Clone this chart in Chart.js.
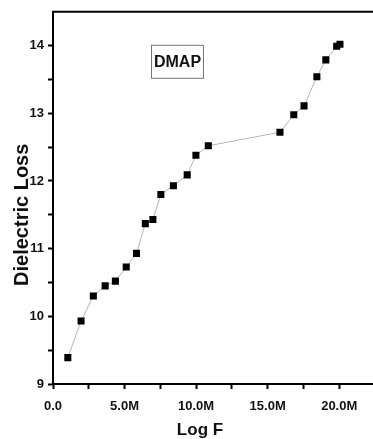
<!DOCTYPE html>
<html>
<head>
<meta charset="utf-8">
<script src="https://cdn.jsdelivr.net/npm/chart.js@4/dist/chart.umd.min.js"></script>
<style>
  html, body { margin: 0; padding: 0; background: #fff; overflow: hidden; }
  #wrap { width: 380px; height: 439px; }
</style>
</head>
<body>
<div id="wrap"><canvas id="grafico"></canvas></div>
<script>
// Dados
const logF = [1.04e6, 1.97e6, 2.83e6, 3.66e6, 4.38e6, 5.14e6, 5.86e6, 6.48e6, 7.01e6, 7.57e6,
  8.45e6, 9.42e6, 10.03e6, 10.90e6, 15.93e6, 16.90e6, 17.62e6, 18.52e6, 19.15e6, 19.91e6, 20.14e6];
const perda = [9.39, 9.93, 10.30, 10.45, 10.52, 10.73, 10.93, 11.37, 11.43, 11.80,
  11.93, 12.09, 12.38, 12.52, 12.72, 12.98, 13.11, 13.54, 13.79, 13.99, 14.02];
const rotuloAmostra = 'DMAP';
const tituloX = 'Log F';
const tituloY = 'Dielectric Loss';

const fonte = "'Liberation Sans', Arial, sans-serif";

// Borda superior, títulos e caixa da legenda
const molduraPlugin = {
  id: 'moldura',
  afterDraw(chart) {
    const { ctx, chartArea } = chart;
    ctx.save();
    ctx.strokeStyle = '#000';
    ctx.lineWidth = 2;
    ctx.beginPath();
    ctx.moveTo(chartArea.left - 1, chartArea.top);
    ctx.lineTo(chartArea.right, chartArea.top);
    ctx.stroke();

    // caixa DMAP
    const bx = chartArea.left + 98, by = chartArea.top + 33, bw = 52, bh = 33;
    ctx.lineWidth = 1;
    ctx.strokeStyle = '#777';
    ctx.strokeRect(bx + 0.5, by + 0.5, bw, bh);
    ctx.fillStyle = '#111';
    ctx.font = "bold 16px " + fonte;
    ctx.textAlign = 'center';
    ctx.textBaseline = 'middle';
    ctx.fillText(rotuloAmostra, bx + bw / 2 + 0.5, by + bh / 2 + 1);

    // títulos dos eixos
    ctx.font = "bold 17px " + fonte;
    ctx.fillText(tituloX, chartArea.left + 147, chartArea.bottom + 46);
    ctx.translate(22, chartArea.top + 203);
    ctx.rotate(-Math.PI / 2);
    ctx.font = "bold 20px " + fonte;
    ctx.fillText(tituloY, 0, 0);
    ctx.restore();
  }
};

const ctx = document.getElementById('grafico').getContext('2d');
new Chart(ctx, {
  type: 'scatter',
  data: {
    datasets: [{
      data: logF.map((x, i) => ({ x: x, y: perda[i] })),
      showLine: true,
      borderColor: '#b5b5b5',
      borderWidth: 1,
      pointStyle: 'rect',
      pointRadius: 5,
      pointBackgroundColor: '#000',
      pointBorderColor: '#000',
      pointBorderWidth: 0
    }]
  },
  options: {
    responsive: true,
    maintainAspectRatio: false,
    animation: false,
    layout: { padding: { top: 11, left: 0, right: 0, bottom: 0 } },
    plugins: {
      legend: { display: false },
      tooltip: { enabled: false }
    },
    scales: {
      x: {
        type: 'linear',
        min: 0,
        max: 22.6e6,
        afterBuildTicks: s => { s.ticks = s.ticks.filter(t => t.value <= 22.5e6); },
        afterFit: s => { s.height = 55; },
        ticks: {
          stepSize: 2.5e6,
          color: '#111',
          padding: 10,
          maxRotation: 0,
          autoSkip: false,
          font: { family: fonte, size: 13, weight: 'bold' },
          callback: v => {
            const k = Math.round(v / 2.5e6);
            if (k % 2 !== 0) return '';
            return k === 0 ? '0.0' : (k * 2.5).toFixed(1) + 'M';
          }
        },
        grid: { drawOnChartArea: false, tickLength: 5, tickWidth: 2, tickColor: '#000' },
        border: { color: '#000', width: 2 },
        title: { display: false }
      },
      y: {
        min: 9,
        max: 14.5,
        afterBuildTicks: s => { s.ticks = s.ticks.filter(t => t.value < 14.5); },
        afterFit: s => { s.width = 53; },
        ticks: {
          stepSize: 0.5,
          color: '#111',
          padding: 4,
          autoSkip: false,
          font: { family: fonte, size: 13, weight: 'bold' },
          callback: v => (Math.abs(v - Math.round(v)) < 1e-6 ? String(Math.round(v)) : '')
        },
        grid: { drawOnChartArea: false, tickLength: 5, tickWidth: 2, tickColor: '#000' },
        border: { color: '#000', width: 2 },
        title: { display: false }
      }
    }
  },
  plugins: [molduraPlugin]
});
</script>
</body>
</html>
